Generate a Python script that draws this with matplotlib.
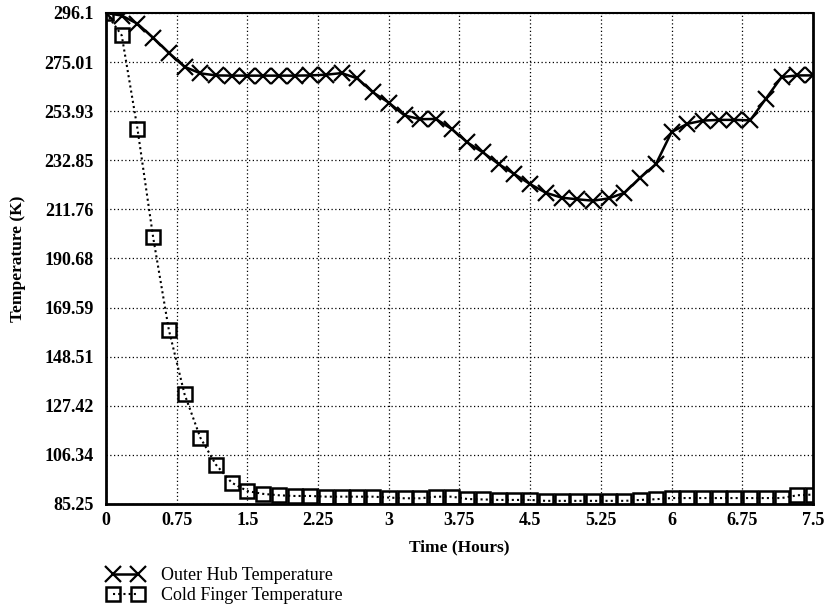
import matplotlib
matplotlib.use("Agg")
import matplotlib.pyplot as plt

time_hours = [0.0, 0.1667, 0.3333, 0.5, 0.6667, 0.8333, 1.0, 1.1667, 1.3333, 1.5,
              1.6667, 1.8333, 2.0, 2.1667, 2.3333, 2.5, 2.6667, 2.8333, 3.0, 3.1667,
              3.3333, 3.5, 3.6667, 3.8333, 4.0, 4.1667, 4.3333, 4.5, 4.6667, 4.8333,
              5.0, 5.1667, 5.3333, 5.5, 5.6667, 5.8333, 6.0, 6.1667, 6.3333, 6.5,
              6.6667, 6.8333, 7.0, 7.1667, 7.3333, 7.5]

outer_hub = [296.1, 295.0, 291.5, 285.5, 279.0, 273.0, 270.2, 269.3, 269.2, 269.2,
             269.2, 269.2, 269.2, 269.3, 269.6, 270.3, 268.0, 262.0, 257.6, 252.1,
             250.5, 250.6, 246.3, 240.5, 236.2, 231.2, 226.9, 222.6, 218.9, 216.8,
             216.1, 215.5, 216.5, 218.9, 225.4, 231.2, 245.0, 248.5, 249.9, 250.2,
             250.2, 250.0, 259.3, 268.6, 269.3, 269.3]

cold_finger = [296.1, 286.5, 246.5, 199.8, 160.0, 132.4, 113.8, 102.1, 94.4, 90.8,
               89.6, 89.0, 88.7, 88.7, 88.4, 88.4, 88.4, 88.4, 88.0, 87.7,
               87.7, 88.4, 88.4, 87.4, 87.2, 87.0, 87.0, 87.0, 86.6, 86.6,
               86.6, 86.6, 86.6, 86.6, 87.0, 87.3, 87.8, 87.8, 87.8, 87.8,
               87.8, 87.8, 87.8, 87.8, 89.0, 89.3]

x_ticks = [0, 0.75, 1.5, 2.25, 3, 3.75, 4.5, 5.25, 6, 6.75, 7.5]
x_tick_labels = ["0", "0.75", "1.5", "2.25", "3", "3.75", "4.5", "5.25", "6", "6.75", "7.5"]
y_ticks = [85.25, 106.34, 127.42, 148.51, 169.59, 190.68, 211.76, 232.85, 253.93, 275.01, 296.1]
y_tick_labels = ["85.25", "106.34", "127.42", "148.51", "169.59", "190.68",
                 "211.76", "232.85", "253.93", "275.01", "296.1"]

series_names = ["Outer Hub Temperature", "Cold Finger Temperature"]

plt.rcParams['font.family'] = ['Liberation Serif', 'DejaVu Serif']

fig = plt.figure(figsize=(8.29, 6.11), dpi=100)
ax = fig.add_axes([106/829, 1-504/611, (813-106)/829, (504-13)/611])

ax.plot(time_hours, outer_hub, color='black', linestyle='-', linewidth=1.8,
        marker='x', markersize=12, markeredgewidth=1.6, label=series_names[0], zorder=3)
ax.plot(time_hours, cold_finger, color='black', linestyle=(0, (1, 1.5)), linewidth=1.5,
        marker='s', markersize=9.5, markeredgewidth=1.8, markerfacecolor='none',
        label=series_names[1], zorder=3)

ax.set_xlim(0, 7.5)
ax.set_ylim(85.25, 296.1)
ax.set_xticks(x_ticks)
ax.set_xticklabels(x_tick_labels)
ax.set_yticks(y_ticks)
ax.set_yticklabels(y_tick_labels)
ax.tick_params(length=0, labelsize=13)
ax.tick_params(axis='x', pad=6)
ax.tick_params(axis='y', pad=9)
for lbl in ax.get_xticklabels() + ax.get_yticklabels():
    lbl.set_fontweight('bold')

ax.grid(True, color='black', linestyle=(0, (1, 2)), linewidth=0.9)
ax.set_axisbelow(True)

for side in ['left', 'bottom', 'right']:
    ax.spines[side].set_linewidth(2.0)
ax.spines['top'].set_linewidth(1.5)

ax.set_xlabel("Time (Hours)", fontsize=12.5, fontweight='bold', labelpad=7)
ax.set_ylabel("Temperature (K)", fontsize=12.5, fontweight='bold', labelpad=13)

fig.legend(loc='upper left', bbox_to_anchor=(100/829, 1-560/611), frameon=False,
           fontsize=13, numpoints=2, handlelength=2.0, handletextpad=1.0,
           labelspacing=0.15, borderaxespad=0)

fig.savefig("out.png", dpi=100)
